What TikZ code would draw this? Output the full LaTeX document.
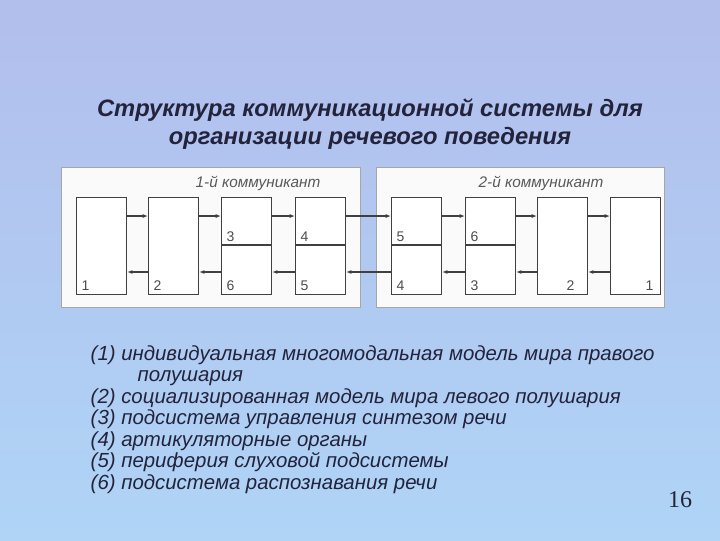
\documentclass[tikz,border=0pt]{standalone}
\usepackage{fontspec}
\setmainfont{Liberation Sans}
\newfontfamily\numfont{Liberation Serif}
\usetikzlibrary{arrows.meta}
\definecolor{txt}{RGB}{35,35,60}
\definecolor{bgtop}{RGB}{178,190,236}
\definecolor{bgbot}{RGB}{175,212,246}
\tikzset{x=0.75pt,y=-0.75pt,
 panel/.style={draw=gray!70,fill=white!96!gray,line width=0.6pt},
 blk/.style={draw=black!75,fill=white,line width=0.8pt},
 con/.style={draw=black!75,line width=0.8pt,-{Latex[length=4pt,width=3pt]}},
 lbl/.style={font=\fontsize{10.5}{11}\selectfont,text=black!70,inner sep=1pt},
 ttl/.style={font=\fontsize{11.5}{12}\selectfont\itshape,text=black!65}}
\begin{document}
\begin{tikzpicture}
\shade[top color=bgtop,bottom color=bgbot] (0,0) rectangle (720,540);
\useasboundingbox (0,0) rectangle (720,540);
\node[align=center,text=txt,font=\fontsize{17.8}{21.5}\selectfont\bfseries\itshape] (title) at (370,124) {Структура коммуникационной системы для\\организации речевого поведения};
\node[panel,minimum width=224.25pt,minimum height=105pt,anchor=north west,inner sep=0] (p1) at (61,167) {};
\node[panel,minimum width=216pt,minimum height=105pt,anchor=north west,inner sep=0] (p2) at (376,167) {};
\node[ttl] (t1) at (258,183) {1-й коммуникант};
\node[ttl] (t2) at (541,183) {2-й коммуникант};
\foreach \n/\x in {a1/76,a2/148,a3/221,a4/295,b5/391,b6/465,b2/537,b1/610}{
  \node[blk,anchor=north west,minimum width=37.5pt,minimum height=72.75pt,inner sep=0] (\n) at (\x,197) {};
}
\draw[blk] (a3.west |- 0,245) -- (a3.east |- 0,245);
\draw[blk] (a4.west |- 0,245) -- (a4.east |- 0,245);
\draw[blk] (b5.west |- 0,245) -- (b5.east |- 0,245);
\draw[blk] (b6.west |- 0,245) -- (b6.east |- 0,245);
\node[lbl,anchor=south west] (l1) at (80,292) {1};
\node[lbl,anchor=south west] (l2) at (152,292) {2};
\node[lbl,anchor=south west] (l3) at (225,243) {3};
\node[lbl,anchor=south west] (l6) at (225,292) {6};
\node[lbl,anchor=south west] (l4) at (299,243) {4};
\node[lbl,anchor=south west] (l5) at (299,292) {5};
\node[lbl,anchor=south west] (r5) at (395,243) {5};
\node[lbl,anchor=south west] (r4) at (395,292) {4};
\node[lbl,anchor=south west] (r6) at (469,243) {6};
\node[lbl,anchor=south west] (r3) at (469,292) {3};
\node[lbl,anchor=south east] (r2) at (576,292) {2};
\node[lbl,anchor=south east] (r1) at (655,292) {1};
\foreach \s/\t in {a1/a2,a2/a3,a3/a4,a4/b5,b5/b6,b6/b2,b2/b1}{
  \draw[con] (\s.east |- 0,216) -- (\t.west |- 0,216);
  \draw[con] (\t.west |- 0,272) -- (\s.east |- 0,272);
}
\node[anchor=north west,align=left,text=txt,font=\fontsize{15.3}{16.1}\selectfont\itshape] (list) at (86,341) {%
(1) индивидуальная многомодальная модель мира правого\\
\hspace*{2.3em}полушария\\
(2) социализированная модель мира левого полушария\\
(3) подсистема управления синтезом речи\\
(4) артикуляторные органы\\
(5) периферия слуховой подсистемы\\
(6) подсистема распознавания речи};
\node[text=txt,font=\fontsize{18}{20}\selectfont\numfont] (num) at (680,500) {16};
\end{tikzpicture}
\end{document}
